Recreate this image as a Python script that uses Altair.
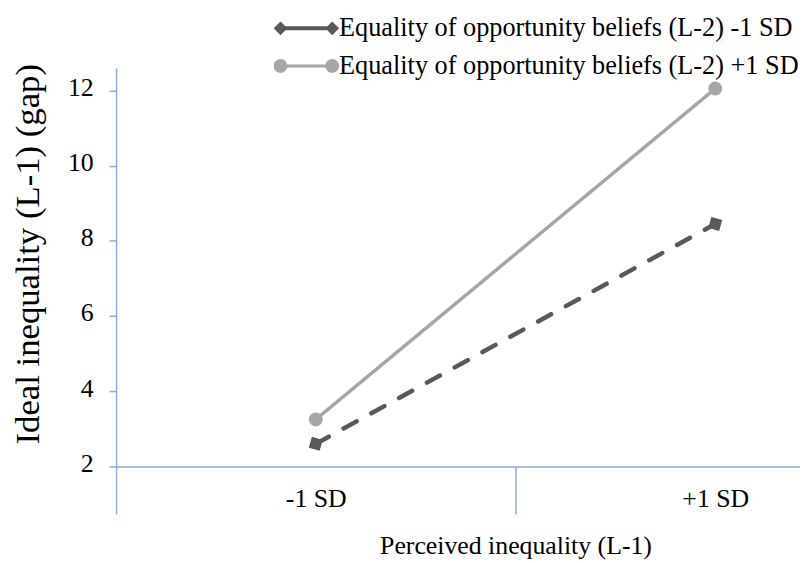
import altair as alt
import pandas as pd

# ---- data ----
perceived = ["-1 SD", "+1 SD"]
series_names = [
    "Equality of opportunity beliefs (L-2) -1 SD",
    "Equality of opportunity beliefs (L-2) +1 SD",
]
low_beliefs = [2.6, 8.45]     # -1 SD series (dark, dashed, diamonds)
high_beliefs = [3.25, 12.05]  # +1 SD series (light, solid, circles)
y_ticks = [2, 4, 6, 8, 10, 12]

rows = []
for p, v in zip(perceived, low_beliefs):
    rows.append({"perceived": p, "series": series_names[0], "value": v})
for p, v in zip(perceived, high_beliefs):
    rows.append({"perceived": p, "series": series_names[1], "value": v})
df = pd.DataFrame(rows)
df["group"] = df["series"]  # copy used by the drawn marks (kept apart from the legend scales)

FONT = "Liberation Serif"
AXIS_BLUE = "#8faadc"
colors = ["#595959", "#a6a6a6"]

x_enc = alt.X(
    "perceived:N",
    sort=perceived,
    scale=alt.Scale(domain=perceived, range=[0, 806], paddingInner=0, paddingOuter=0),
    axis=alt.Axis(
        title="Perceived inequality (L-1)", labelAngle=0, grid=False,
        tickBand="extent", tickSize=48, tickColor=AXIS_BLUE, tickWidth=1.5,
        domainColor=AXIS_BLUE, domainWidth=1.5,
        labelFont=FONT, labelFontSize=26, labelColor="black",
        labelBaseline="alphabetic", labelPadding=-8,
        titleFont=FONT, titleFontSize=26, titleFontWeight="normal", titleColor="black",
        titleX=403, titleY=88, titleBaseline="alphabetic", titleAlign="center",
    ),
)
y_enc = alt.Y(
    "value:Q",
    scale=alt.Scale(domain=[2, 12.6], nice=False, zero=False),
    axis=alt.Axis(
        title="Ideal inequality (L-1) (gap)", values=y_ticks, grid=False,
        tickSize=7, tickColor=AXIS_BLUE, tickWidth=1.5,
        domainColor=AXIS_BLUE, domainWidth=1.5,
        labelFont=FONT, labelFontSize=26, labelColor="black",
        labelPadding=16, labelOffset=-3,
        titleFont=FONT, titleFontSize=35, titleFontWeight="normal", titleColor="black",
        titleX=-89, titleY=187.5, titleBaseline="middle", titleAlign="center", titleAngle=270,
    ),
)

lines = alt.Chart(df).mark_line(strokeCap="round").encode(
    x=x_enc, y=y_enc,
    stroke=alt.Stroke("group:N", sort=series_names, scale=alt.Scale(range=colors), legend=None),
    strokeDash=alt.StrokeDash("group:N", sort=series_names, scale=alt.Scale(range=[[15, 17], [1, 0]]), legend=None),
    strokeWidth=alt.StrokeWidth("group:N", sort=series_names, scale=alt.Scale(range=[4.5, 3.5]), legend=None),
)

diamonds = alt.Chart(df).transform_filter(alt.datum.group == series_names[0]).mark_point(
    shape="diamond", filled=True, size=260, angle=331, opacity=1
).encode(x=x_enc, y=y_enc,
         fill=alt.Fill("group:N", sort=series_names, scale=alt.Scale(range=colors), legend=None))

circles = alt.Chart(df).transform_filter(alt.datum.group == series_names[1]).mark_point(
    shape="circle", filled=True, size=200, opacity=1
).encode(x=x_enc, y=y_enc,
         fill=alt.Fill("group:N", sort=series_names, scale=alt.Scale(range=colors), legend=None))

# legend icons: a line with a marker at each end (all filled shapes)
diamond_icon = ("M-0.79,-0.06L0.79,-0.06L0.79,0.06L-0.79,0.06Z"
                "M-0.79,-0.21L-0.58,0L-0.79,0.21L-1,0Z"
                "M0.79,-0.21L1,0L0.79,0.21L0.58,0Z")
circle_icon = ("M-0.79,-0.045L0.79,-0.045L0.79,0.045L-0.79,0.045Z"
               "M-1,0A0.21,0.21 0 1,1 -0.58,0A0.21,0.21 0 1,1 -1,0Z"
               "M0.58,0A0.21,0.21 0 1,1 1,0A0.21,0.21 0 1,1 0.58,0Z")

leg = alt.Legend(
    title=None, orient="none", legendX=159, legendY=-59, direction="vertical",
    padding=0, labelFont=FONT, labelFontSize=26.5, labelColor="black",
    labelLimit=2000, labelOffset=0, symbolSize=4356, symbolStrokeWidth=0,
    symbolOpacity=1, rowPadding=0, clipHeight=38,
)

legend_layer = alt.Chart(df).mark_point(filled=True, opacity=0).encode(
    x=x_enc, y=y_enc,
    color=alt.Color("series:N", scale=alt.Scale(domain=series_names, range=colors), legend=leg),
    shape=alt.Shape("series:N", scale=alt.Scale(domain=series_names, range=[diamond_icon, circle_icon]), legend=leg),
)

chart = alt.layer(legend_layer, lines, diamonds, circles).properties(
    width=690, height=402,
    autosize=alt.AutoSizeParams(type="none"),
    padding={"left": 109, "top": 58, "right": 0, "bottom": 95},
).configure_view(stroke=None)

chart.save("out.html", embed_options={"renderer": "svg", "actions": False})
